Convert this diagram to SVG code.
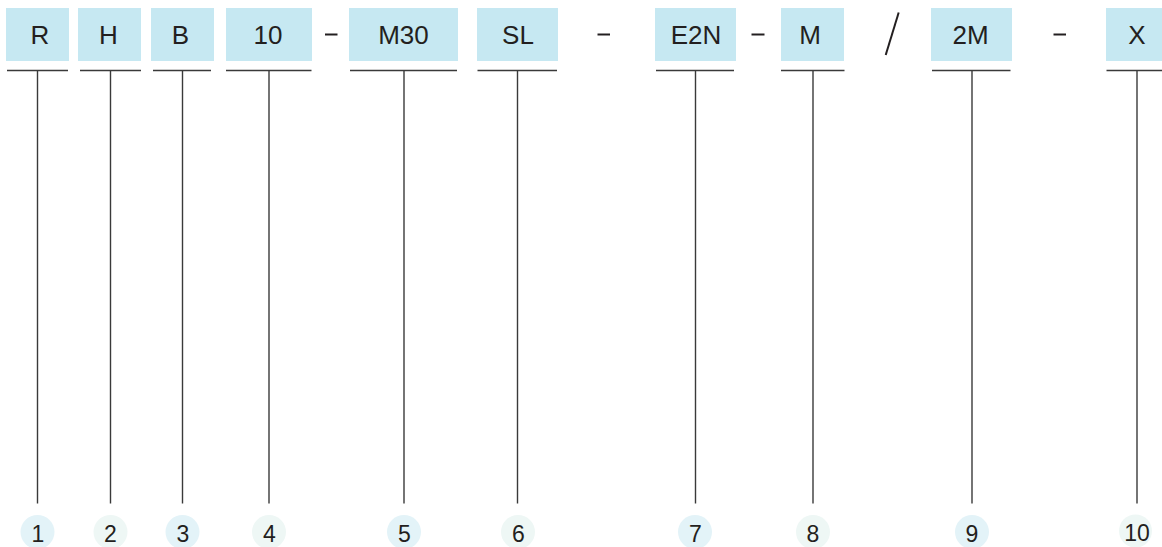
<svg xmlns="http://www.w3.org/2000/svg" width="1162" height="547" viewBox="0 0 1162 547">
<style>
.box{fill:#c6e8f2}
.lbl{font-family:"Liberation Sans",Arial,sans-serif;font-size:26px;fill:#231f20;text-anchor:middle}
.num{font-family:"Liberation Sans",Arial,sans-serif;font-size:23px;fill:#231f20;text-anchor:middle}
.cA{fill:#e3f3f8}
.cB{fill:#eef7f5}
.ul{stroke:#3a3a3a;stroke-width:1.6;fill:none}
.vl{stroke:#3a3a3a;stroke-width:1.4;fill:none}
.sep{stroke:#231f20;stroke-width:2;fill:none}
</style>
<rect width="1162" height="547" fill="#ffffff"/>
<g id="separators">
<line class="sep" x1="325" y1="34.5" x2="337.5" y2="34.5"/>
<line class="sep" x1="597.5" y1="34.5" x2="610" y2="34.5"/>
<line class="sep" x1="751.5" y1="34.5" x2="764.5" y2="34.5"/>
<line class="sep" x1="898.7" y1="12.5" x2="885.7" y2="55"/>
<line class="sep" x1="1053.5" y1="34.5" x2="1066" y2="34.5"/>
</g>
<g id="connectors">
<line class="vl" x1="37.5" y1="70.5" x2="37.5" y2="503.5"/>
<line class="vl" x1="110.5" y1="70.5" x2="110.5" y2="503.5"/>
<line class="vl" x1="182.5" y1="70.5" x2="182.5" y2="503.5"/>
<line class="vl" x1="269" y1="70.5" x2="269" y2="503.5"/>
<line class="vl" x1="404" y1="70.5" x2="404" y2="503.5"/>
<line class="vl" x1="517.5" y1="70.5" x2="517.5" y2="503.5"/>
<line class="vl" x1="695.5" y1="70.5" x2="695.5" y2="503.5"/>
<line class="vl" x1="813" y1="70.5" x2="813" y2="503.5"/>
<line class="vl" x1="972" y1="70.5" x2="972" y2="503.5"/>
<line class="vl" x1="1137" y1="70.5" x2="1137" y2="503.5"/>
</g>
<g id="seg1"><rect class="box" x="6" y="8" width="63" height="53"/><text class="lbl" x="40" y="44">R</text><line class="ul" x1="7" y1="70.5" x2="68" y2="70.5"/></g>
<g id="seg2"><rect class="box" x="78" y="8" width="63" height="53"/><text class="lbl" x="108.5" y="44">H</text><line class="ul" x1="80" y1="70.5" x2="141" y2="70.5"/></g>
<g id="seg3"><rect class="box" x="151" y="8" width="63" height="53"/><text class="lbl" x="180.5" y="44">B</text><line class="ul" x1="153" y1="70.5" x2="211" y2="70.5"/></g>
<g id="seg4"><rect class="box" x="226" y="8" width="86" height="53"/><text class="lbl" x="268" y="44">10</text><line class="ul" x1="226" y1="70.5" x2="311.5" y2="70.5"/></g>
<g id="seg5"><rect class="box" x="349" y="8" width="109" height="53"/><text class="lbl" x="403.5" y="44">M30</text><line class="ul" x1="350" y1="70.5" x2="457" y2="70.5"/></g>
<g id="seg6"><rect class="box" x="477" y="8" width="81" height="53"/><text class="lbl" x="518" y="44">SL</text><line class="ul" x1="477.5" y1="70.5" x2="557" y2="70.5"/></g>
<g id="seg7"><rect class="box" x="655" y="8" width="81" height="53"/><text class="lbl" x="696" y="44">E2N</text><line class="ul" x1="656" y1="70.5" x2="734" y2="70.5"/></g>
<g id="seg8"><rect class="box" x="781" y="8" width="63" height="53"/><text class="lbl" x="810" y="44">M</text><line class="ul" x1="781" y1="70.5" x2="844.5" y2="70.5"/></g>
<g id="seg9"><rect class="box" x="931" y="8" width="81" height="53"/><text class="lbl" x="970.5" y="44">2M</text><line class="ul" x1="932" y1="70.5" x2="1010.5" y2="70.5"/></g>
<g id="seg10"><rect class="box" x="1106" y="8" width="62" height="53"/><text class="lbl" x="1137" y="44">X</text><line class="ul" x1="1106.5" y1="70.5" x2="1162" y2="70.5"/></g>
<g id="n1"><circle class="cA" cx="37.5" cy="532" r="17"/><text class="num" x="38" y="542">1</text></g>
<g id="n2"><circle class="cB" cx="110.5" cy="532" r="17"/><text class="num" x="110.5" y="542">2</text></g>
<g id="n3"><circle class="cA" cx="182.5" cy="532" r="17"/><text class="num" x="183" y="542">3</text></g>
<g id="n4"><circle class="cB" cx="269" cy="532" r="17"/><text class="num" x="269.5" y="542">4</text></g>
<g id="n5"><circle class="cA" cx="404" cy="532" r="17"/><text class="num" x="404.5" y="542">5</text></g>
<g id="n6"><circle class="cB" cx="518" cy="532" r="17"/><text class="num" x="518.5" y="542">6</text></g>
<g id="n7"><circle class="cA" cx="695" cy="532" r="17"/><text class="num" x="695.5" y="542">7</text></g>
<g id="n8"><circle class="cB" cx="813" cy="532" r="17"/><text class="num" x="813" y="542">8</text></g>
<g id="n9"><circle class="cA" cx="972" cy="532" r="17"/><text class="num" x="972" y="542">9</text></g>
<g id="n10"><circle class="cB" cx="1135.5" cy="531" r="16.5"/><text class="num" x="1137" y="541">10</text></g>
</svg>
